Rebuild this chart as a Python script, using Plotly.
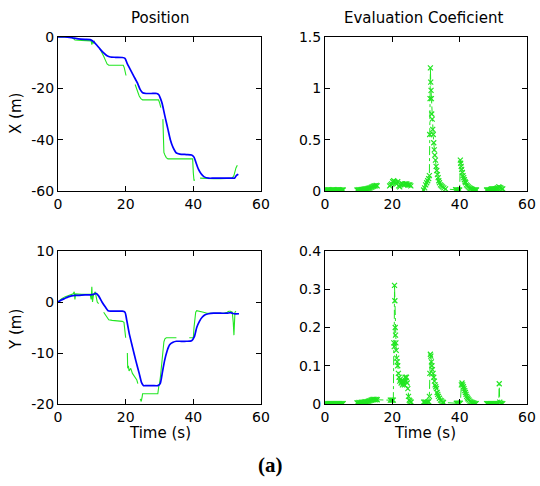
import plotly.graph_objects as go
from plotly.subplots import make_subplots

# ---------------- data ----------------
# Position X: estimated (blue) and measured (green)
bx_t = [0, 2, 4, 6, 8, 9.5, 10.5, 11.5, 12.5, 13.5, 14.5, 15.5, 17, 19, 19.8, 20.5, 21.5, 22.5, 23.5, 24.3,
        25, 26, 28, 29.2, 29.8, 30.3, 30.8, 31.3, 31.8, 32.5, 33.2, 34, 35, 36, 38, 39.5, 40.2, 40.8, 41.5,
        42.3, 43.2, 44.5, 46, 48, 50, 51.5, 52.2, 52.7, 53.3]
bx_v = [0, 0, -0.3, -0.7, -0.9, -1.0, -1.8, -3.2, -4.8, -6.2, -7.3, -7.8, -7.9, -8.0, -8.3, -10.5, -13, -15.5,
        -18, -20.5, -21.7, -22, -22, -22, -22.5, -24, -26, -29, -32, -36, -40, -43, -45.2, -45.6, -45.8, -46,
        -46.8, -49, -51.5, -53.3, -54.5, -55, -55, -55, -55, -55, -55, -54, -53.5]

gx_t = [0, 1, 2, 3, 4, 4.5, 5, 7, 9, 9.8, 10, 10.2, 10.4, 10.8, None,
        12.4, 13, 13.5, 14, 14.5, 15, 16, 18, 19.3, 19.6, 19.9, 20.1, None,
        22.8, 23.2, 23.6, 24, 24.5, 25, 26, 28, 29.7, 30, 30.4, None,
        31, 31.1, 31.3, 31.6, 32, 32.5, 34, 36, 38, 39.8, 40, 40.2, 40.4, None,
        42, 44, 46, 48, 50, 51.5, 52, 52.3, 52.6, 53]
gx_v = [0, 0.1, 0.2, 0, 0, -0.5, -1.2, -1.3, -1.3, -1.5, -3, -1.8, -2.5, -1.5, None,
        -4.6, -6, -7.5, -9, -10.5, -11, -11, -11, -11, -12, -14.5, -15, None,
        -18.5, -20, -21.5, -23, -24, -24.5, -24.5, -24.5, -24.5, -25.5, -27.5, None,
        -32, -38, -45, -46, -47, -47.5, -47.5, -47.5, -47.5, -47.5, -53, -56, -55.5, None,
        -55, -55.2, -55.2, -55.2, -55, -55, -54, -52, -51, -50]

# Position Y
by_t = [0, 1, 2, 3, 4, 5, 6, 8, 9.5, 10.5, 11.2, 12, 13, 14, 14.8, 15.5, 17, 19, 19.8, 20.3, 21, 22, 23, 24,
        24.7, 25.3, 26, 28, 29.5, 30.2, 30.8, 31.5, 32.2, 33, 34, 35, 36, 38, 39.5, 40.3, 41, 41.8, 42.6,
        43.5, 44.5, 46, 48, 50, 51, 52, 53.5]
by_v = [0, 0.4, 0.7, 1.0, 1.2, 1.3, 1.3, 1.4, 1.4, 1.5, 1.7, 1.2, 0, -1.0, -1.7, -1.8, -1.8, -1.8, -2.0, -3.5,
        -6, -8.8, -11.5, -14, -15.8, -16.4, -16.4, -16.4, -16.4, -16.0, -14, -11.5, -9.7, -8.4, -7.9, -7.7,
        -7.7, -7.7, -7.6, -6.8, -5, -3.8, -3, -2.5, -2.3, -2.2, -2.2, -2.2, -2.1, -2.3, -2.3]

gy_t = [0, 0.5, 1, 2, 3, 4, 4.5, 4.8, 5, 5.2, 6, 7, 8, 9.5, 9.8, 10, 10.2, 10.5, 11, 11.3, 11.6, 12, None,
        13.5, 14, 14.5, 15, 16, 17, 18, 19, 19.5, 19.8, 20, None,
        20.5, 20.6, 20.8, 21, 21.5, 22, 22.5, 23, 23.3, 23.6, None,
        24.3, 24.6, 24.9, 25, 26, 27, 28, 29, 29.5, 29.8, 30, 30.3, 30.6, 31, 31.3, 31.6, 32, 33, 34, 35, None,
        38.8, 39.5, 40, 40.2, 40.4, 40.7, 41, 42, 43, 44, 45, 47, 49, 50, 50.5, 51, 51.5, 51.8, 52, 52.3, 52.6]
gy_v = [0, 0.3, 0.6, 1.0, 1.2, 1.4, 1.6, 2.0, 0.5, 1.6, 1.5, 1.5, 1.5, 1.5, 0.5, 3.0, 0, 1.5, 2.0, 1.0, 0, -0.3, None,
        -2, -2.5, -3.2, -3.5, -3.6, -3.7, -3.8, -3.8, -4, -5.5, -7, None,
        -10, -13, -12.5, -13.5, -13, -14, -14.5, -15, -15.3, -16, None,
        -19, -19.5, -18.5, -18, -18, -18, -18, -18, -18, -16.5, -16, -14.5, -12, -9, -7.8, -7.2, -7, -7, -7, -7, None,
        -7, -7, -7, -5, -3, -2, -1.7, -1.8, -2, -2.2, -2.2, -2.2, -2.2, -2.0, -1.8, -1.8, -2.0, -4, -6.5, -2.0, -1.8]

# Evaluation coefficient for X
ex_t = [0, 0.3, 0.6, 0.9, 1.2, 1.5, 1.8, 2.1, 2.4, 2.7, 3, 3.3, 3.6, 3.9, 4.2, 4.5, 4.8, 5.1, 5.4, None,
        9.5, 9.8, 10.1, 10.4, 10.7, 11, 11.3, 11.6, 11.9, 12.2, 12.5, 12.8, 13.1, 13.4, 13.7, 14, 14.3, 14.6,
        14.9, 15.2, 15.5, None,
        19.2, 19.5, 19.8, 20.1, 20.4, 20.7, 21, 21.3, 21.6, 21.9, 22.2, 22.5, 22.8, 23.1, 23.4, 23.7, 24,
        24.3, 24.6, 24.9, 25.2, 25.5, None,
        29.3, 29.6, 29.9, 30.2, 30.5, 30.8, 31.0, 31.1, 31.2, 31.3, 31.4, 31.5, 31.6, 31.7, 31.85, 32, 32.15,
        32.3, 32.45, 32.6, 32.8, 33, 33.2, 33.4, 33.6, 33.8, 34, 34.3, 34.6, 34.9, 35.3, 35.8,
        38.8, 39.1, 39.4, 39.7, 40, 40.2, 40.3, 40.45, 40.6, 40.8, 41, 41.2, 41.4, 41.6, 41.8, 42, 42.3,
        42.6, 42.9, 43.2, 43.5, 43.8, 44.1, 44.4, 44.7, 45, None,
        48, 48.3, 48.6, 48.9, 49.2, 49.5, 49.8, 50.1, 50.4, 50.7, 51, 51.3, 51.6, 51.9, 52.2, 52.5, 52.8]
ex_v = [0.01, 0.008, 0.01, 0.012, 0.01, 0.008, 0.01, 0.01, 0.012, 0.01, 0.008, 0.01, 0.01, 0.012, 0.01,
        0.01, 0.008, 0.01, 0.01, None,
        0.01, 0.01, 0.012, 0.01, 0.012, 0.015, 0.015, 0.018, 0.02, 0.02, 0.022, 0.025, 0.028, 0.03, 0.035,
        0.04, 0.045, 0.05, 0.05, 0.055, 0.05, None,
        0.05, 0.06, 0.07, 0.09, 0.1, 0.09, 0.08, 0.07, 0.09, 0.05, 0.04, 0.06, 0.07, 0.07, 0.06, 0.07, 0.07,
        0.07, 0.06, 0.06, 0.06, 0.05, None,
        0.01, 0.03, 0.06, 0.08, 0.1, 0.12, 0.15, 0.55, 0.9, 1.2, 1.06, 0.98, 0.9, 0.75, 0.7, 0.6, 0.55,
        0.47, 0.4, 0.35, 0.3, 0.24, 0.2, 0.16, 0.13, 0.1, 0.08, 0.06, 0.05, 0.04, 0.03, 0.02,
        0.012, 0.01, 0.01, 0.01, 0.01, 0.3, 0.27, 0.24, 0.21, 0.18, 0.15, 0.13, 0.11, 0.09, 0.08, 0.06, 0.05,
        0.04, 0.03, 0.025, 0.02, 0.015, 0.01, 0.01, 0.01, 0.01, None,
        0.01, 0.01, 0.01, 0.01, 0.015, 0.02, 0.02, 0.02, 0.02, 0.02, 0.025, 0.03, 0.04, 0.035, 0.03, 0.02, 0.02]

# Evaluation coefficient for Y
ey_t = [0, 0.3, 0.6, 0.9, 1.2, 1.5, 1.8, 2.1, 2.4, 2.7, 3, 3.3, 3.6, 3.9, 4.2, 4.5, 4.8, 5.1, 5.4, None,
        9.5, 9.8, 10.1, 10.4, 10.7, 11, 11.3, 11.6, 11.9, 12.2, 12.5, 12.8, 13.1, 13.4, 13.7, 14, 14.3, 14.6,
        14.9, 15.2, 15.5,
        19.4, 19.7, 20, 20.3, 20.45, 20.55, 20.65, 20.75, 20.85, 20.95, 21.05, 21.15, 21.3, 21.45, 21.6, 21.8,
        22, 22.2, 22.4, 22.6, 22.8, 23, 23.2, 23.4, 23.6, 23.8, 24, 24.2, 24.4, 24.6, 24.8, 25, 25.2, 25.4,
        25.6, None,
        29.3, 29.6, 29.9, 30.2, 30.5, 30.8, 31, 31.15, 31.3, 31.45, 31.6, 31.75, 31.9, 32.1, 32.3, 32.5, 32.7,
        32.9, 33.1, 33.3, 33.5, 33.7, 34, 34.3, 34.6, 34.9, 35.2,
        39, 39.3, 39.6, 39.9, 40.2, 40.5, 40.7, 40.9, 41.1, 41.3, 41.5, 41.7, 41.9, 42.1, 42.3, 42.5, 42.8,
        43.1, 43.4, 43.7, 44, 44.3, 44.6, 44.9, None,
        48, 48.3, 48.6, 48.9, 49.2, 49.5, 49.8, 50.1, 50.4, 50.7, 51, 51.3, 51.6, 51.75, 51.9, 52.2, 52.5, 52.8]
ey_v = [0.001, 0.001, 0.001, 0.001, 0.001, 0.001, 0.001, 0.001, 0.001, 0.001, 0.001, 0.001, 0.001, 0.001,
        0.001, 0.001, 0.001, 0.001, 0.001, None,
        0.003, 0.003, 0.004, 0.003, 0.004, 0.005, 0.004, 0.005, 0.006, 0.005, 0.006, 0.007, 0.008, 0.009,
        0.01, 0.011, 0.012, 0.012, 0.011, 0.012, 0.011,
        0.01, 0.01, 0.01, 0.01, 0.16, 0.15, 0.31, 0.27, 0.2, 0.18, 0.16, 0.14, 0.12, 0.11, 0.1, 0.08,
        0.07, 0.06, 0.065, 0.055, 0.06, 0.05, 0.055, 0.06, 0.05, 0.07, 0.06, 0.07, 0.055, 0.04, 0.02, 0.01,
        0.008, 0.005, 0.005, None,
        0.005, 0.005, 0.005, 0.004, 0.005, 0.006, 0.02, 0.08, 0.13, 0.125, 0.11, 0.1, 0.09, 0.08, 0.07, 0.06,
        0.05, 0.045, 0.04, 0.03, 0.025, 0.02, 0.015, 0.01, 0.008, 0.005, 0.004,
        0.002, 0.002, 0.002, 0.002, 0.002, 0.05, 0.055, 0.05, 0.045, 0.04, 0.035, 0.03, 0.025, 0.02, 0.016,
        0.013, 0.01, 0.007, 0.005, 0.004, 0.003, 0.002, 0.001, 0.001, None,
        0.001, 0.001, 0.001, 0.001, 0.001, 0.001, 0.001, 0.001, 0.001, 0.001, 0.001, 0.001, 0.001, 0.053,
        0.005, 0.002, 0.001, 0.001]

x_ticks = [0, 20, 40, 60]
yx_ticks = [0, -20, -40, -60]
yy_ticks = [10, 0, -10, -20]
ex_ticks = [0, 0.5, 1, 1.5]
ey_ticks = [0, 0.1, 0.2, 0.3, 0.4]

# ---------------- figure ----------------
BLUE = "#0000ff"
GREEN = "#22e622"
FONT = "DejaVu Sans"

fig = make_subplots(rows=2, cols=2)

fig.add_trace(go.Scatter(x=gx_t, y=gx_v, mode="lines", line=dict(color=GREEN, width=1.1)), row=1, col=1)
fig.add_trace(go.Scatter(x=bx_t, y=bx_v, mode="lines", line=dict(color=BLUE, width=1.7, shape="spline", smoothing=0.6)), row=1, col=1)
fig.add_trace(go.Scatter(x=gy_t, y=gy_v, mode="lines", line=dict(color=GREEN, width=1.1)), row=2, col=1)
fig.add_trace(go.Scatter(x=by_t, y=by_v, mode="lines", line=dict(color=BLUE, width=1.7, shape="spline", smoothing=0.6)), row=2, col=1)

mk = dict(symbol="x-thin", size=5, line=dict(color=GREEN, width=1.2), color=GREEN)
fig.add_trace(go.Scatter(x=ex_t, y=ex_v, mode="lines+markers", line=dict(color=GREEN, width=1, dash="dashdot"), marker=mk), row=1, col=2)
fig.add_trace(go.Scatter(x=ey_t, y=ey_v, mode="lines+markers", line=dict(color=GREEN, width=1, dash="dashdot"), marker=mk), row=2, col=2)

axis_common = dict(showline=True, linecolor="black", linewidth=1, mirror="allticks", ticks="inside",
                   ticklen=5, tickcolor="black", showgrid=False, zeroline=False, automargin=False,
                   tickfont=dict(family=FONT, size=14, color="black"))

xdom = {1: [58 / 540, 261 / 540], 2: [325 / 540, 527 / 540]}
ydom = {1: [(486 - 191) / 486, (486 - 37) / 486], 2: [(486 - 404) / 486, (486 - 251) / 486]}

for r in (1, 2):
    for c in (1, 2):
        fig.update_xaxes(range=[0, 60], tickvals=x_ticks, ticktext=[str(v) for v in x_ticks],
                         domain=xdom[c], row=r, col=c, **axis_common)
        fig.update_yaxes(domain=ydom[r], row=r, col=c, **axis_common)

fig.update_yaxes(range=[-60, 0], tickvals=yx_ticks, ticktext=[str(v) for v in yx_ticks], row=1, col=1)
fig.update_yaxes(range=[-20, 10], tickvals=yy_ticks, ticktext=[str(v) for v in yy_ticks], row=2, col=1)
fig.update_yaxes(range=[0, 1.5], tickvals=ex_ticks, ticktext=["0", "0.5", "1", "1.5"], row=1, col=2)
fig.update_yaxes(range=[0, 0.4], tickvals=ey_ticks, ticktext=["0", "0.1", "0.2", "0.3", "0.4"], row=2, col=2)

def txt(x, y, s, size=15, angle=0, family=FONT, bold=False):
    fig.add_annotation(x=x / 540, y=1 - y / 486, xref="paper", yref="paper", text=f"<b>{s}</b>" if bold else s,
                       showarrow=False, textangle=angle, xanchor="center", yanchor="middle",
                       font=dict(family=family, size=size, color="black"))

txt(160, 18, "Position")
txt(423, 18, "Evaluation Coeficient")
txt(16, 114, "X (m)", angle=-90)
txt(16, 330, "Y (m)", angle=-90)
txt(160, 433, "Time (s)")
txt(425, 433, "Time (s)")
txt(270, 465, "(a)", size=21, family="Liberation Serif", bold=True)

fig.update_layout(width=540, height=486, margin=dict(l=0, r=0, t=0, b=0, autoexpand=False), showlegend=False,
                  plot_bgcolor="white", paper_bgcolor="white", hovermode=False)

fig.write_html("out.html", config={"displayModeBar": False, "staticPlot": True},
               post_script="document.body.style.margin='0';document.body.style.padding='0';")
